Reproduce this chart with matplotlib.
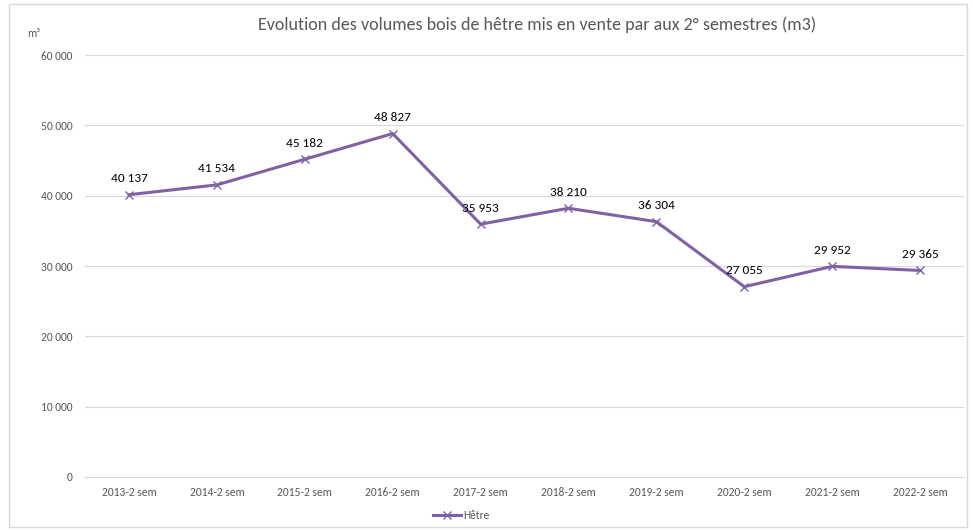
import matplotlib.pyplot as plt
from matplotlib.patches import Rectangle

plt.rcParams['font.family'] = ['Carlito', 'Liberation Sans', 'DejaVu Sans']

# data
categories = ["2013-2 sem", "2014-2 sem", "2015-2 sem", "2016-2 sem", "2017-2 sem",
              "2018-2 sem", "2019-2 sem", "2020-2 sem", "2021-2 sem", "2022-2 sem"]
volumes = [40137, 41534, 45182, 48827, 35953, 38210, 36304, 27055, 29952, 29365]
yticks = [0, 10000, 20000, 30000, 40000, 50000, 60000]

purple = "#7F62A4"
grey = "#595959"


def fmt(v):
    return f"{v:,}".replace(",", " ")


fig = plt.figure(figsize=(9.73, 5.31), dpi=100)
ax = fig.add_axes([0.0874, 0.1017, 0.9034, 0.7947])

x = range(len(categories))
ax.plot(x, volumes, color=purple, lw=2.2, marker="x", ms=6, mew=1.0, label="Hêtre")
for i, v in zip(x, volumes):
    ax.annotate(fmt(v), (i, v), xytext=(0, 7.5), textcoords="offset points",
                ha="center", va="bottom", fontsize=9.5, color="black")

ax.set_xlim(-0.5, len(categories) - 0.5)
ax.set_ylim(0, 60000)
ax.set_yticks(yticks)
ax.set_yticklabels([fmt(t) for t in yticks], fontsize=8.3, color=grey)
ax.set_xticks(list(x))
ax.set_xticklabels(categories, fontsize=8.3, color=grey)
ax.tick_params(length=0, pad=7)
ax.tick_params(axis="y", pad=9)
ax.grid(axis="y", color="#D9D9D9", lw=0.8)
ax.set_axisbelow(True)
for s in ["top", "right", "left"]:
    ax.spines[s].set_visible(False)
ax.spines["bottom"].set_color("#D9D9D9")

fig.text(0.552, 0.953, "Evolution des volumes bois de hêtre mis en vente par aux 2° semestres (m3)",
         ha="center", va="center", fontsize=13, color=grey)
fig.text(0.028, 0.936, "m³", ha="left", va="center", fontsize=8.3, color=grey)

fig.legend(loc="center", bbox_to_anchor=(0.474, 0.03), frameon=False, fontsize=8.3,
           labelcolor=grey, handlelength=2.5, handletextpad=0.2)

# outer chart border
fig.patches.append(Rectangle((0.009, 0.008), 0.985, 0.985, transform=fig.transFigure,
                             fill=False, edgecolor="#D9D9D9", lw=1))

fig.savefig("out.png", dpi=100)
